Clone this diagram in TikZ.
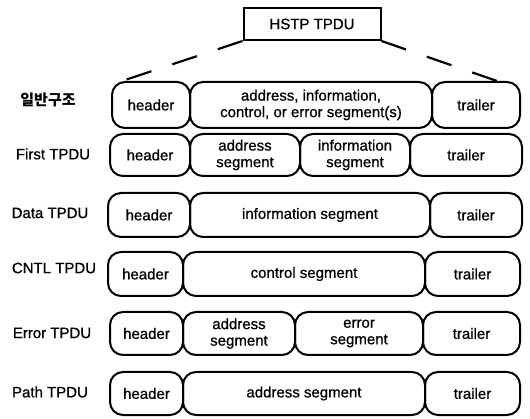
\documentclass[tikz,border=0pt]{standalone}
\usepackage{fontspec}
\setmainfont{Liberation Sans}[FakeBold=0.8]
\newfontfamily\krfont{Noto Sans CJK KR}
% segment box given by its left, right, top and bottom edges
\newcommand\segnode[6]{%
  \node[seg, minimum width={#3pt-#2pt}, minimum height={#5pt-#4pt}]
    (#1) at ({(#2+#3)/2},{(#4+#5)/2}) {#6};}
\begin{document}
\begin{tikzpicture}[x=1pt,y=-1pt,
  txt/.style={font=\fontsize{15}{16.5}\selectfont},
  seg/.style={draw, line width=2pt, rounded corners=13pt, inner sep=0pt,
              align=center, txt},
  rowlabel/.style={txt, inner sep=0pt},
  tpdu/.style={draw, line width=2pt, inner sep=0pt, txt},
  fan/.style={line width=2.2pt, dash pattern=on 26pt off 22pt}]
\useasboundingbox (0,0) rectangle (530,419);

% top frame
\node[tpdu, minimum width=137pt, minimum height=32pt] (hstp) at (312,24) {HSTP TPDU};

% general structure
\node[rowlabel] (l0) at (48,100) {\krfont\bfseries 일반구조};
\segnode{h0}{112}{190}{82}{128}{header}
\segnode{b0}{190}{432}{82}{128}{address, information,\\control, or error segment(s)}
\segnode{t0}{432}{520}{82}{128}{trailer}

% dashed fan-out from the frame
\coordinate (fl) at (125,80);
\coordinate (fr) at (497,81);
\draw[fan] (hstp.south west) -- (fl);
\draw[fan] (hstp.south east) -- (fr);

% First TPDU
\node[rowlabel] (l1) at (53,154) {First TPDU};
\segnode{h1}{110}{190}{134}{176}{header}
\segnode{a1}{190}{300}{134}{176}{address\\segment}
\segnode{i1}{300}{410}{134}{176}{information\\segment}
\segnode{t1}{410}{522}{134}{176}{trailer}

% Data TPDU
\node[rowlabel] (l2) at (50,213) {Data TPDU};
\segnode{h2}{108}{190}{193}{237}{header}
\segnode{i2}{190}{430}{193}{237}{information segment}
\segnode{t2}{430}{522}{193}{237}{trailer}

% CNTL TPDU
\node[rowlabel] (l3) at (54,268) {CNTL TPDU};
\segnode{h3}{108}{183}{252}{296}{header}
\segnode{c3}{183}{425}{252}{296}{control segment}
\segnode{t3}{425}{520}{252}{296}{trailer}

% Error TPDU
\node[rowlabel] (l4) at (52,333) {Error TPDU};
\segnode{h4}{110}{183}{312}{355}{header}
\segnode{a4}{183}{295}{312}{355}{address\\segment}
\segnode{e4}{295}{423}{312}{355}{error\\segment}
\segnode{t4}{423}{520}{312}{355}{trailer}

% Path TPDU
\node[rowlabel] (l5) at (50,392) {Path TPDU};
\segnode{h5}{110}{183}{372}{415}{header}
\segnode{a5}{183}{425}{372}{415}{address segment}
\segnode{t5}{425}{520}{372}{415}{trailer}
\end{tikzpicture}
\end{document}
